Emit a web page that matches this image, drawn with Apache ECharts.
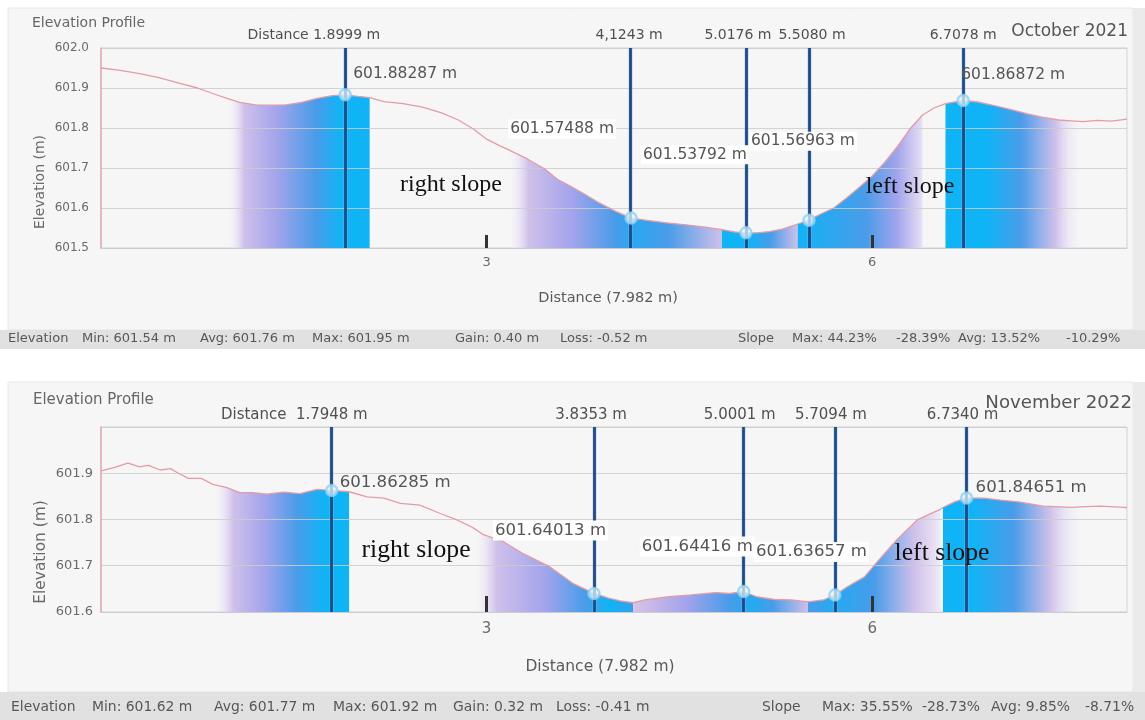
<!DOCTYPE html>
<html>
<head>
<meta charset="utf-8">
<title>Elevation Profile</title>
<script src="https://cdn.jsdelivr.net/npm/echarts@6/dist/echarts.min.js"></script>
<style>
  html, body { margin: 0; padding: 0; background: #ffffff; }
  #chart { width: 1145px; height: 720px; }
</style>
</head>
<body>
<div id="chart"></div>
<script>
// ---------- October 2021 profile: distance (m) / elevation (m) ----------
const octDist = [0.00, 0.15, 0.30, 0.45, 0.60, 0.75, 0.88, 0.98, 1.08, 1.20, 1.32, 1.44, 1.56, 1.68, 1.80, 1.8999, 2.00, 2.09,
  2.20, 2.35, 2.50, 2.65, 2.78, 2.90, 3.00, 3.10, 3.16, 3.32, 3.45, 3.55, 3.65, 3.75, 3.88, 4.00, 4.1243,
  4.25, 4.40, 4.55, 4.70, 4.83, 4.93, 5.0176, 5.10, 5.20, 5.30, 5.42, 5.508, 5.60, 5.70, 5.80, 5.90, 6.00,
  6.10, 6.20, 6.30, 6.39, 6.48, 6.57, 6.7078, 6.82, 6.95, 7.08, 7.20, 7.32, 7.45, 7.55, 7.64, 7.75, 7.86, 7.982];
const octElev = [601.950, 601.944, 601.936, 601.926, 601.913, 601.900, 601.885, 601.874, 601.864, 601.858, 601.857, 601.858, 601.864, 601.874, 601.881, 601.88287, 601.879, 601.876,
  601.866, 601.861, 601.852, 601.838, 601.820, 601.797, 601.772, 601.756, 601.747, 601.722, 601.698, 601.672, 601.655, 601.637, 601.612, 601.592, 601.57488,
  601.569, 601.563, 601.558, 601.552, 601.546, 601.540, 601.53792, 601.538, 601.541, 601.547, 601.560, 601.56963, 601.585, 601.600, 601.625, 601.652, 601.680,
  601.715, 601.755, 601.800, 601.832, 601.850, 601.861, 601.86872, 601.865, 601.856, 601.846, 601.836, 601.827, 601.820, 601.818, 601.816, 601.819, 601.817, 601.822];

// ---------- November 2022 profile ----------
const novDist = [0.00, 0.10, 0.21, 0.30, 0.37, 0.46, 0.54, 0.61, 0.68, 0.78, 0.87, 0.98, 1.08, 1.18, 1.29, 1.42, 1.55, 1.68, 1.7948, 1.93,
  2.07, 2.20, 2.33, 2.48, 2.64, 2.77, 2.89, 2.97, 3.13, 3.28, 3.49, 3.67, 3.8353, 3.95, 4.04, 4.14,
  4.23, 4.42, 4.59, 4.78, 4.89, 5.0001, 5.10, 5.24, 5.37, 5.50, 5.62, 5.7094, 5.81, 5.94, 6.05, 6.19, 6.35, 6.45, 6.53,
  6.55, 6.64, 6.734, 6.87, 7.00, 7.14, 7.33, 7.55, 7.66, 7.77, 7.96, 7.982];
const novElev = [601.905, 601.912, 601.922, 601.914, 601.917, 601.907, 601.910, 601.899, 601.889, 601.889, 601.876, 601.869, 601.858, 601.858, 601.855, 601.859, 601.856, 601.865, 601.86285, 601.860,
  601.849, 601.846, 601.835, 601.831, 601.813, 601.799, 601.783, 601.768, 601.752, 601.727, 601.698, 601.662, 601.64013, 601.630, 601.624, 601.620,
  601.626, 601.633, 601.637, 601.642, 601.640, 601.64416, 601.633, 601.627, 601.626, 601.622, 601.626, 601.63657, 601.655, 601.676, 601.712, 601.756, 601.799, 601.812, 601.822,
  601.826, 601.838, 601.84651, 601.846, 601.842, 601.838, 601.829, 601.826, 601.828, 601.829, 601.826, 601.826];

// ---------- picked points on each profile ----------
const octPointDist = [1.8999, 4.1243, 5.0176, 5.5080, 6.7078];
const octPointElev = [601.88287, 601.57488, 601.53792, 601.56963, 601.86872];
const octPointText = ['Distance 1.8999 m', '4,1243 m', '5.0176 m', '5.5080 m', '6.7078 m'];
const novPointDist = [1.7948, 3.8353, 5.0001, 5.7094, 6.7340];
const novPointElev = [601.86285, 601.64013, 601.64416, 601.63657, 601.84651];
const novPointText = ['Distance  1.7948 m', '3.8353 m', '5.0001 m', '5.7094 m', '6.7340 m'];

// ---------- highlighted stretches [from, to] (m) ----------
const octBands = [[0.98, 2.09], [3.16, 4.83], [4.83, 5.42], [5.42, 6.39], [6.57, 7.64]];
const novBands = [[0.87, 1.93], [2.89, 4.14], [4.14, 5.50], [5.50, 6.53], [6.55, 7.66]];

// ---------- axis ticks ----------
const xTicks = [3, 6];

// ---------- summary rows ----------
const octElevStats = ['Elevation', 'Min: 601.54 m', 'Avg: 601.76 m', 'Max: 601.95 m', 'Gain: 0.40 m', 'Loss: -0.52 m'];
const octSlopeStats = ['Slope', 'Max: 44.23%', '-28.39%', 'Avg: 13.52%', '-10.29%'];
const novElevStats = ['Elevation', 'Min: 601.62 m', 'Avg: 601.77 m', 'Max: 601.92 m', 'Gain: 0.32 m', 'Loss: -0.41 m'];
const novSlopeStats = ['Slope', 'Max: 35.55%', '-28.73%', 'Avg: 9.85%', '-8.71%'];

// ================= styling & layout =================
const FONT = 'DejaVu Sans';
const C = '#0fb4f6', B = '#4a9ce9', P = '#a3a4ec', L = '#cfc0ea', W = 'rgba(248,246,253,0)';
const octStops = [
  [[0, W], [0.12, L], [0.35, P], [0.62, B], [0.8, C], [1, C]],
  [[0, W], [0.1, L], [0.3, P], [0.5, B], [0.58, '#27a8f1'], [0.75, B], [1, L]],
  [[0, C], [0.35, C], [0.65, B], [1, L]],
  [[0, C], [0.25, '#2aa8f0'], [0.55, B], [0.8, P], [1, '#e8e0f6']],
  [[0, C], [0.3, C], [0.55, B], [0.8, L], [1, W]]
];
const novStops = [
  [[0, W], [0.15, L], [0.38, P], [0.62, B], [0.82, C], [1, C]],
  [[0, W], [0.15, L], [0.45, P], [0.7, B], [0.85, C], [1, '#35a0ee']],
  [[0, '#d9c3e6'], [0.3, P], [0.55, B], [0.68, '#22aaf2'], [0.8, B], [1, L]],
  [[0, B], [0.2, '#22aaf2'], [0.5, B], [0.8, L], [1, '#efe9f7']],
  [[0, C], [0.2, C], [0.5, B], [0.75, L], [1, W]]
];

const panels = [
  {
    dist: octDist, elev: octElev, bands: octBands, stops: octStops,
    pDist: octPointDist, pElev: octPointElev, pText: octPointText,
    yMin: 601.5, yMax: 602.0,
    grid: { left: 101, top: 48, width: 1026, height: 200 },
    fs: 1.0, statsSize: 13,
    distLabelY: 35, distDx: [35, -2, -8, 3, 0],
    valOffset: [[8, -21], [-123, -89], [-105, -78], [-60, -79], [-2, -26]],
    valBox: [false, true, true, true, false],
    title: { text: 'Elevation Profile', x: 32, y: 23 },
    date: { text: 'October 2021', x: 1128, y: 32 },
    yName: { x: 40, y: 182 }, xName: { x: 608, y: 298 },
    slopes: [{ text: 'right slope', x: 451, y: 185 }, { text: 'left slope', x: 910, y: 187 }],
    panelRect: [8, 8, 1125, 322], statsBar: [330, 19], statsY: 339,
    elevStats: octElevStats, slopeStats: octSlopeStats,
    elevX: [8, 82, 200, 312, 455, 560], slopeX: [738, 792, 896, 958, 1066]
  },
  {
    dist: novDist, elev: novElev, bands: novBands, stops: novStops,
    pDist: novPointDist, pElev: novPointElev, pText: novPointText,
    yMin: 601.6, yMax: 602.0,
    grid: { left: 101, top: 427, width: 1026, height: 185 },
    fs: 1.07, statsSize: 13.9,
    distLabelY: 415, distDx: [36, -3, -4, -4, -4],
    valOffset: [[8, -8], [-101, -63], [-104, -45], [-81, -43], [9, -10]],
    valBox: [false, true, true, true, false],
    title: { text: 'Elevation Profile', x: 33, y: 400 },
    date: { text: 'November 2022', x: 1132, y: 403 },
    yName: { x: 41, y: 552 }, xName: { x: 600, y: 667 },
    slopes: [{ text: 'right slope', x: 416, y: 550 }, { text: 'left slope', x: 942, y: 553 }],
    panelRect: [8, 382, 1125, 310], statsBar: [692, 28], statsY: 707,
    elevStats: novElevStats, slopeStats: novSlopeStats,
    elevX: [11, 92, 214, 333, 453, 556], slopeX: [762, 822, 922, 991, 1085]
  }
];

const zip = (xs, ys) => xs.map((x, k) => [x, ys[k]]);
const within = (xs, ys, a, b) => zip(xs, ys).filter(p => p[0] >= a - 1e-9 && p[0] <= b + 1e-9);
const gradient = stops => new echarts.graphic.LinearGradient(0, 0, 1, 0,
  stops.map(s => ({ offset: s[0], color: s[1] })));

const grids = [], xAxes = [], yAxes = [], series = [];

panels.forEach((pn, i) => {
  grids.push(Object.assign({ show: true, borderColor: '#d3d3d3', borderWidth: 1, backgroundColor: 'transparent' }, pn.grid));

  xAxes.push({
    type: 'value', gridIndex: i, min: 0, max: 7.982, interval: 3, z: 2,
    axisLine: { show: true, lineStyle: { color: '#c9cdd3', width: 1 } },
    axisTick: { show: true, inside: true, customValues: xTicks, length: i ? 16 : 13, lineStyle: { color: '#333333', width: 3 } },
    axisLabel: {
      customValues: xTicks, color: '#6a6a6a', fontFamily: FONT, fontSize: i ? 15 : 13, margin: i ? 10 : 8,
      formatter: v => (xTicks.indexOf(v) >= 0 ? String(v) : '')
    },
    splitLine: { show: false }
  });

  yAxes.push({
    type: 'value', gridIndex: i, min: pn.yMin, max: pn.yMax, interval: 0.1, z: 2,
    axisLine: { show: true, lineStyle: { color: '#e4a9b1', width: 1.5 } },
    axisTick: { show: false },
    axisLabel: {
      color: '#6a6a6a', fontFamily: FONT, fontSize: i ? 13 : 12, margin: i ? 8 : 12,
      formatter: v => (v > pn.yMax - 0.05 && i === 1 ? '' : v.toFixed(1))
    },
    splitLine: { show: true, lineStyle: { color: 'rgba(205,205,205,0.85)', width: 1 } }
  });

  // highlighted stretches under the profile
  pn.bands.forEach((bd, j) => {
    series.push({
      type: 'line', xAxisIndex: i, yAxisIndex: i, silent: true, z: 1,
      data: within(pn.dist, pn.elev, bd[0], bd[1]),
      symbol: 'none', lineStyle: { width: 0 },
      areaStyle: { origin: 'start', opacity: 1, color: gradient(pn.stops[j]) }
    });
  });

  // profile line
  series.push({
    type: 'line', xAxisIndex: i, yAxisIndex: i, silent: true, z: 3,
    data: zip(pn.dist, pn.elev), symbol: 'none',
    lineStyle: { color: '#e39ca6', width: 1.3 }
  });

  // vertical lines at the picked distances (soft halo + core)
  [[5, 'rgba(130,190,240,0.3)'], [2.8, '#1f4986']].forEach((st, k) => {
    series.push({
      type: 'line', xAxisIndex: i, yAxisIndex: i, silent: true, z: 4 + k * 0.1, data: [],
      markLine: {
        silent: true, symbol: 'none', animation: false,
        label: { show: false },
        lineStyle: { color: st[1], width: st[0], type: 'solid' },
        data: pn.pDist.map(d => ({ xAxis: d }))
      }
    });
  });

  // picked points
  series.push({
    type: 'scatter', xAxisIndex: i, yAxisIndex: i, silent: true, z: 6,
    data: zip(pn.pDist, pn.pElev), symbol: 'circle', symbolSize: 11,
    itemStyle: { color: 'rgba(232,246,253,0.9)', borderColor: '#8dd2f4', borderWidth: 2.5 }
  });
});

const chart = echarts.init(document.getElementById('chart'), null, { renderer: 'canvas' });
chart.setOption({
  animation: false,
  backgroundColor: '#ffffff',
  grid: grids, xAxis: xAxes, yAxis: yAxes, series: series
});

// ---------- text, panels and summary rows ----------
const txt = (text, x, y, size, opts) => Object.assign({
  type: 'text', x: x, y: y, z: 20, silent: true,
  style: Object.assign({
    text: text, fill: '#5a5a5a', fontFamily: FONT, fontSize: size,
    align: 'left', verticalAlign: 'middle', textAlign: 'left', textVerticalAlign: 'middle'
  }, (opts && opts.style) || {})
}, (opts && opts.el) || {});

const graphics = [];
panels.forEach((pn, i) => {
  const r = pn.panelRect;
  graphics.push({ type: 'rect', z: -10, silent: true, shape: { x: r[0], y: r[1], width: r[2], height: r[3] },
    style: { fill: '#f6f6f6', stroke: '#e6e6e6', lineWidth: 1 } });
  graphics.push({ type: 'rect', z: -10, silent: true, shape: { x: r[0] + r[2], y: r[1], width: 1145 - r[0] - r[2], height: r[3] },
    style: { fill: '#ebebeb' } });
  graphics.push({ type: 'rect', z: -10, silent: true, shape: { x: 0, y: pn.statsBar[0], width: 1145, height: pn.statsBar[1] },
    style: { fill: '#e1e1e1' } });

  const f = pn.fs;
  graphics.push(txt(pn.title.text, pn.title.x, pn.title.y, 14 * f, { style: { fill: '#666666' } }));
  graphics.push(txt(pn.date.text, pn.date.x, pn.date.y, 17 * f, { style: { fill: '#555555', align: 'right', textAlign: 'right' } }));
  graphics.push(txt('Elevation (m)', pn.yName.x, pn.yName.y, 14 * (i ? 1.1 : 1), {
    style: { fill: '#6a6a6a', align: 'center', textAlign: 'center' }, el: { rotation: Math.PI / 2 } }));
  graphics.push(txt('Distance (7.982 m)', pn.xName.x, pn.xName.y, 14.5 * f, { style: { fill: '#5a5a5a', align: 'center', textAlign: 'center' } }));

  pn.slopes.forEach(s => graphics.push(txt(s.text, s.x, s.y, 24 * f, {
    style: { fill: '#111111', fontFamily: 'Liberation Serif', align: 'center', textAlign: 'center' } })));

  // labels tied to the picked points
  pn.pDist.forEach((d, k) => {
    const px = chart.convertToPixel({ gridIndex: i }, [d, pn.pElev[k]]);
    const first = k === 0;
    graphics.push(txt(pn.pText[k], px[0] + pn.distDx[k], pn.distLabelY, 14 * f, {
      style: { fill: '#505050', align: first ? 'right' : 'center', textAlign: first ? 'right' : 'center' } }));
    const off = pn.valOffset[k];
    const boxStyle = pn.valBox[k] ? { backgroundColor: '#ffffff', padding: [2, 2, 1, 2] } : {};
    graphics.push(txt(pn.pElev[k].toFixed(5) + ' m', px[0] + off[0], px[1] + off[1], 15.5 * f, {
      style: Object.assign({ fill: '#555555' }, boxStyle) }));
  });

  pn.elevStats.forEach((s, k) => graphics.push(txt(s, pn.elevX[k], pn.statsY, pn.statsSize, { style: { fill: '#575757' } })));
  pn.slopeStats.forEach((s, k) => graphics.push(txt(s, pn.slopeX[k], pn.statsY, pn.statsSize, { style: { fill: '#575757' } })));
});

chart.setOption({ graphic: { elements: graphics } });
</script>
</body>
</html>
